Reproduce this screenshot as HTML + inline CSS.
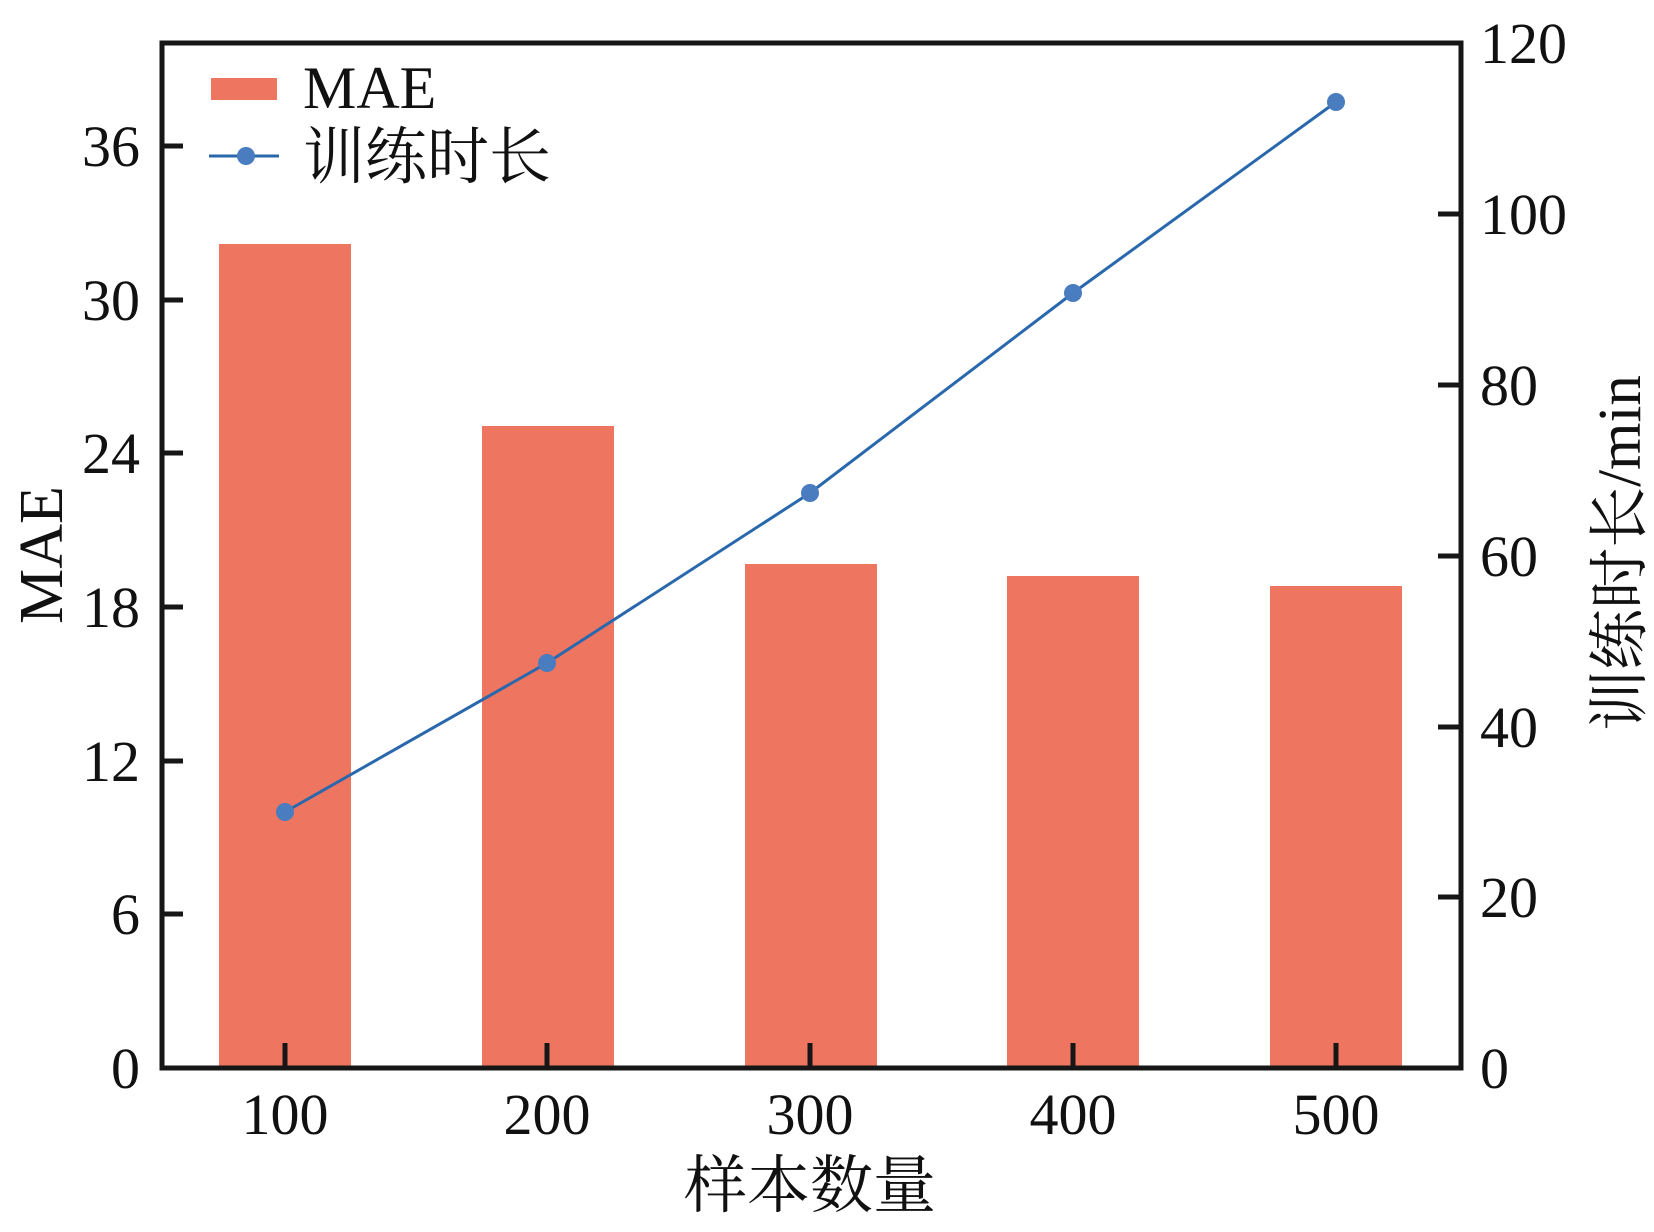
<!DOCTYPE html><html><head><meta charset="utf-8"><style>body{margin:0;background:#fff}</style></head><body>
<svg width="1654" height="1227" xmlns="http://www.w3.org/2000/svg" font-family="Liberation Serif, Noto Serif CJK SC, serif" fill="#111">
<g fill="#ee7560">
<rect x="219" y="244" width="132" height="824"/>
<rect x="482" y="426" width="132" height="642"/>
<rect x="745" y="564" width="132" height="504"/>
<rect x="1007" y="576" width="132" height="492"/>
<rect x="1270" y="586" width="132" height="482"/>
</g>
<polyline points="285,812 547,663 810,493 1073,293 1336,102" fill="none" stroke="#2a68ad" stroke-width="3"/>
<g fill="#4a7cc0"><circle cx="285" cy="812" r="9"/><circle cx="547" cy="663" r="9"/><circle cx="810" cy="493" r="9"/><circle cx="1073" cy="293" r="9"/><circle cx="1336" cy="102" r="9"/></g>
<rect x="162" y="43" width="1299" height="1025" fill="none" stroke="#161616" stroke-width="5"/>
<g stroke="#161616" stroke-width="5">
<line x1="162" y1="146" x2="183" y2="146"/><line x1="162" y1="300" x2="183" y2="300"/><line x1="162" y1="453" x2="183" y2="453"/><line x1="162" y1="607" x2="183" y2="607"/><line x1="162" y1="761" x2="183" y2="761"/><line x1="162" y1="914" x2="183" y2="914"/>
<line x1="1461" y1="214" x2="1438" y2="214"/><line x1="1461" y1="385" x2="1438" y2="385"/><line x1="1461" y1="556" x2="1438" y2="556"/><line x1="1461" y1="727" x2="1438" y2="727"/><line x1="1461" y1="897" x2="1438" y2="897"/>
<line x1="285" y1="1068" x2="285" y2="1043"/><line x1="547" y1="1068" x2="547" y2="1043"/><line x1="810" y1="1068" x2="810" y2="1043"/><line x1="1073" y1="1068" x2="1073" y2="1043"/><line x1="1336" y1="1068" x2="1336" y2="1043"/>
</g>
<g font-size="58" text-anchor="end">
<text x="140" y="166">36</text><text x="140" y="320">30</text><text x="140" y="473">24</text><text x="140" y="627">18</text><text x="140" y="781">12</text><text x="140" y="934">6</text><text x="140" y="1088">0</text>
</g>
<g font-size="58">
<text x="1480" y="63">120</text><text x="1480" y="234">100</text><text x="1480" y="405">80</text><text x="1480" y="576">60</text><text x="1480" y="747">40</text><text x="1480" y="917">20</text><text x="1480" y="1088">0</text>
</g>
<g font-size="58" text-anchor="middle">
<text x="285" y="1134">100</text><text x="547" y="1134">200</text><text x="810" y="1134">300</text><text x="1073" y="1134">400</text><text x="1336" y="1134">500</text>
<text x="810" y="1207" font-size="63">样本数量</text>
<text transform="translate(62,555) rotate(-90)" font-size="62">MAE</text>
<text transform="translate(1640,553) rotate(-90)" font-size="61">训练时长/min</text>
</g>
<rect x="211" y="78" width="66" height="22" fill="#ee7560"/>
<text x="303" y="108" font-size="60">MAE</text>
<line x1="209" y1="156" x2="279" y2="156" stroke="#2a68ad" stroke-width="3"/>
<circle cx="246" cy="156" r="9" fill="#4a7cc0"/>
<text x="303" y="178" font-size="62">训练时长</text>
</svg>
</body></html>
